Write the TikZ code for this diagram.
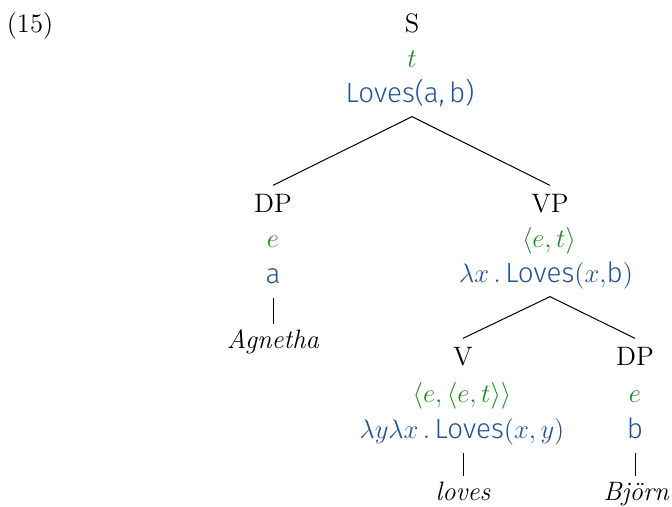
\documentclass[tikz,border=0pt]{standalone}
\usepackage{fontspec}
\setsansfont{Fira Sans}[UprightFont=* Light]
\definecolor{tgreen}{RGB}{34,139,34}
\definecolor{sblue}{RGB}{36,84,146}
\newcommand{\rmsz}{\fontsize{12}{14}\selectfont}
\newcommand{\sfsz}{\fontsize{12.5}{14}\selectfont\sffamily}
\begin{document}
\begin{tikzpicture}[x=0.45pt,y=-0.45pt,
  every node/.style={inner sep=0pt, outer sep=0pt, anchor=base},
  cat/.style={font=\rmsz, text height=8.2pt, outer ysep=3.8pt},
  typ/.style={text=tgreen, font=\rmsz},
  sem/.style={text=sblue, font=\sfsz, text depth=3pt, outer ysep=3.6pt},
  word/.style={font=\rmsz\itshape, text height=8.2pt, outer ysep=2.6pt},
  edge/.style={line width=0.45pt, draw=black}]
\useasboundingbox (0,0) rectangle (672,506);
\node[font=\rmsz] (num) at (30,32) {(15)};
% S
\node[cat] (Scat) at (412,32) {S};
\node[typ] (Styp) at (412,67) {$t$};
\node[sem] (Ssem) at (410,102) {Loves(a,\,b)};
% DP (subject)
\node[cat] (DPcat) at (273,212) {DP};
\node[typ] (DPtyp) at (273,247) {$e$};
\node[sem] (DPsem) at (273,283) {a};
\node[word] (Agn) at (273,348) {Agnetha};
% VP
\node[cat] (VPcat) at (550,212) {VP};
\node[typ] (VPtyp) at (549,247) {$\langle e,t\rangle$};
\node[sem] (VPsem) at (546,282) {$\lambda x\,.\,$Loves$(x,$b$)$};
% V
\node[cat] (Vcat) at (463,365) {V};
\node[typ] (Vtyp) at (462,402) {$\langle e,\langle e,t\rangle\rangle$};
\node[sem] (Vsem) at (462,438) {$\lambda y\lambda x\,.\,$Loves$(x,y)$};
\node[word] (lov) at (463,500) {loves};
% DP (object)
\node[cat] (DPbcat) at (635,365) {DP};
\node[typ] (DPbtyp) at (635,402) {$e$};
\node[sem] (DPbsem) at (635,438) {b};
\node[word] (Bj) at (636,500) {Björn};
% connectors
\draw[edge] (Ssem.south -| Scat.south) -- (DPcat.north);
\draw[edge] (Ssem.south -| Scat.south) -- (VPcat.north);
\draw[edge] (VPsem.south -| VPcat.south) -- (Vcat.north);
\draw[edge] (VPsem.south -| VPcat.south) -- (DPbcat.north);
\draw[edge] (DPsem.south) -- (Agn.north);
\draw[edge] (Vsem.south -| Vcat.south) -- (lov.north -| Vcat.south);
\draw[edge] (DPbsem.south) -- (Bj.north -| DPbsem.south);
\end{tikzpicture}
\end{document}
